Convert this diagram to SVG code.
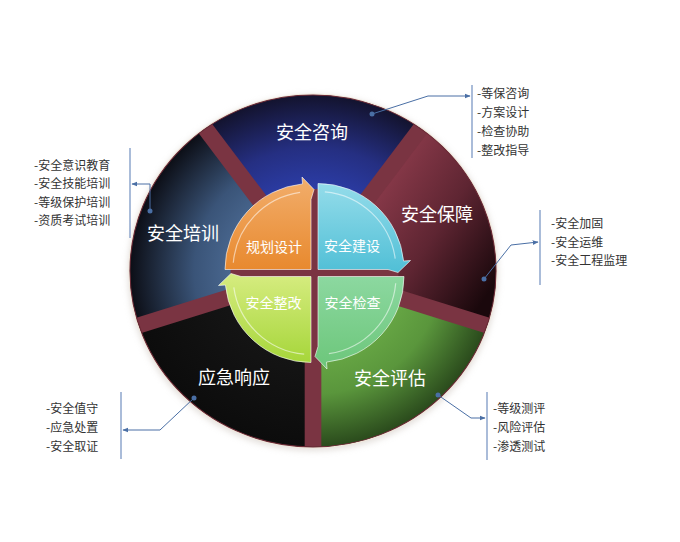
<svg xmlns="http://www.w3.org/2000/svg" width="680" height="542" viewBox="0 0 680 542">
<defs>
<style>
.lbl{font-family:"Noto Sans CJK SC","Noto Sans",sans-serif;fill:#ffffff;text-anchor:middle}
.big{font-size:18px}
.q{font-size:14px}
.list{font-family:"Noto Sans CJK SC","Noto Sans",sans-serif;font-size:12px;fill:#333333}
.conn{fill:none;stroke:#4a6fa5;stroke-width:1}
.brk{stroke:#8ea6cc;stroke-width:1.5}
.dot{fill:#4a6fa5}
.band{stroke:#7a3442;stroke-width:16}
.hl{fill:none;stroke:#ffffff;stroke-opacity:0.55;stroke-width:1.2}
.qd{stroke:#ffffff;stroke-opacity:0.6;stroke-width:1}
</style>
<marker id="ar" viewBox="0 0 10 10" refX="9" refY="5" markerWidth="6" markerHeight="6" orient="auto" markerUnits="userSpaceOnUse">
<path d="M0,1 L10,5 L0,9 Z" fill="#4a6fa5"/>
</marker>
<radialGradient id="gZX" gradientUnits="userSpaceOnUse" cx="0" cy="0" r="176">
<stop offset="0.4" stop-color="#2d40b0"/><stop offset="0.7" stop-color="#252f82"/><stop offset="1" stop-color="#13132e"/>
</radialGradient>
<linearGradient id="gBZ" gradientUnits="userSpaceOnUse" x1="50" y1="-70" x2="176" y2="10">
<stop offset="0" stop-color="#8a3a4a"/><stop offset="0.5" stop-color="#5e2532"/><stop offset="1" stop-color="#1a080c"/>
</linearGradient>
<radialGradient id="gPG" gradientUnits="userSpaceOnUse" cx="0" cy="0" r="176">
<stop offset="0.4" stop-color="#6cad48"/><stop offset="0.7" stop-color="#5a963c"/><stop offset="1" stop-color="#2a4a1c"/>
</radialGradient>
<radialGradient id="gYJ" gradientUnits="userSpaceOnUse" cx="0" cy="0" r="176">
<stop offset="0.4" stop-color="#161616"/><stop offset="1" stop-color="#0c0c0c"/>
</radialGradient>
<radialGradient id="gPX" gradientUnits="userSpaceOnUse" cx="0" cy="0" r="176">
<stop offset="0.35" stop-color="#50709a"/><stop offset="0.65" stop-color="#3a5478"/><stop offset="1" stop-color="#0c0e16"/>
</radialGradient>
<linearGradient id="qO" x1="0" y1="0" x2="0" y2="1"><stop offset="0" stop-color="#f2ae6c"/><stop offset="1" stop-color="#e8892e"/></linearGradient>
<linearGradient id="qC" x1="0" y1="0" x2="0" y2="1"><stop offset="0" stop-color="#94dcea"/><stop offset="1" stop-color="#50bfd6"/></linearGradient>
<linearGradient id="qL" x1="0" y1="0" x2="0" y2="1"><stop offset="0" stop-color="#d6ec80"/><stop offset="1" stop-color="#a6d63a"/></linearGradient>
<linearGradient id="qG" x1="0" y1="0" x2="0" y2="1"><stop offset="0" stop-color="#8cd8a0"/><stop offset="1" stop-color="#6cc67a"/></linearGradient>
<clipPath id="cc"><circle cx="0" cy="0" r="176"/></clipPath>
<filter id="sh" x="-10%" y="-10%" width="120%" height="120%"><feGaussianBlur stdDeviation="3"/></filter>
</defs>

<g id="wheel" transform="translate(313,271) scale(1.04,1)">
<circle cx="0" cy="2" r="178" fill="#c8c0b8" opacity="0.5" filter="url(#sh)"/>
<circle cx="0" cy="0" r="177.5" fill="#f0e8dc"/>
<circle cx="0" cy="0" r="176" fill="#7a3442"/>
<g id="sector-zixun"><path d="M0,0 L-103.45,-142.39 A176,176 0 0 1 103.45,-142.39 Z" fill="url(#gZX)"/></g>
<g id="sector-baozhang"><path d="M0,0 L103.45,-142.39 A176,176 0 0 1 167.39,54.39 Z" fill="url(#gBZ)"/></g>
<g id="sector-pinggu"><path d="M0,0 L167.39,54.39 A176,176 0 0 1 0,176 Z" fill="url(#gPG)"/></g>
<g id="sector-yingji"><path d="M0,0 L0,176 A176,176 0 0 1 -167.39,54.39 Z" fill="url(#gYJ)"/></g>
<g id="sector-peixun"><path d="M0,0 L-167.39,54.39 A176,176 0 0 1 -103.45,-142.39 Z" fill="url(#gPX)"/></g>
<g clip-path="url(#cc)">
<line class="band" x1="0" y1="0" x2="171.2" y2="55.6"/>
<line class="band" x1="0" y1="0" x2="0" y2="180"/>
<line class="band" x1="0" y1="0" x2="-171.2" y2="55.6"/>
<line class="band" x1="0" y1="0" x2="-105.8" y2="-145.6"/>
<line class="band" x1="0" y1="0" x2="105.8" y2="-145.6"/>
</g>
<circle cx="0" cy="0" r="176" fill="none" stroke="#6a2a36" stroke-width="1"/>
</g>

<text class="lbl big" x="312" y="138.5">安全咨询</text>
<text class="lbl big" x="437" y="220.5">安全保障</text>
<text class="lbl big" x="183" y="239.5">安全培训</text>
<text class="lbl big" x="234" y="383.5">应急响应</text>
<text class="lbl big" x="390" y="384.5">安全评估</text>

<circle cx="314.5" cy="273" r="84" fill="#7a3442"/>

<g id="q-guihua">
<path class="qd" d="M311,269.5 L225,269.5 A86,86 0 0 1 302.5,183.9 L302,177 L314,189.5 L311,199.5 Z" fill="url(#qO)"/>
<path class="hl" d="M233.3,262.7 A78,78 0 0 1 300.1,192.3"/>
<text class="lbl q" x="274" y="251.5">规划设计</text>
</g>
<g id="q-jianshe">
<path class="qd" d="M318,269.5 L318,183.5 A86,86 0 0 1 403.6,261 L410.5,260.5 L398,272.5 L388,269.5 Z" fill="url(#qC)"/>
<path class="hl" d="M324.8,191.8 A78,78 0 0 1 395.2,258.6"/>
<text class="lbl q" x="352" y="251">安全建设</text>
</g>
<g id="q-jiancha">
<path class="qd" d="M318,276.5 L404,276.5 A86,86 0 0 1 326.5,362.1 L327,369 L315,356.5 L318,346.5 Z" fill="url(#qG)"/>
<path class="hl" d="M395.7,283.3 A78,78 0 0 1 328.9,353.7"/>
<text class="lbl q" x="352.5" y="308">安全检查</text>
</g>
<g id="q-zhenggai">
<path class="qd" d="M311,276.5 L311,362.5 A86,86 0 0 1 225.4,285 L218.5,285.5 L231,273.5 L241,276.5 Z" fill="url(#qL)"/>
<path class="hl" d="M304.2,354.2 A78,78 0 0 1 233.8,287.4"/>
<text class="lbl q" x="273.5" y="308">安全整改</text>
</g>

<g id="connectors">
<polyline class="conn" points="372,114 428,96 470,96" marker-end="url(#ar)"/>
<circle class="dot" cx="372" cy="114" r="2.5"/>
<polyline class="conn" points="150,211 150,184 132,184" marker-end="url(#ar)"/>
<circle class="dot" cx="150" cy="211" r="2.5"/>
<polyline class="conn" points="484,279 511,245 538,242" marker-end="url(#ar)"/>
<circle class="dot" cx="484" cy="279" r="2.5"/>
<polyline class="conn" points="194,398 160,430 123,430" marker-end="url(#ar)"/>
<circle class="dot" cx="194" cy="398" r="2.5"/>
<polyline class="conn" points="438,395 471,418 485,418" marker-end="url(#ar)"/>
<circle class="dot" cx="438" cy="395" r="2.5"/>
</g>

<g id="list-zixun">
<line class="brk" x1="472" y1="85" x2="472" y2="158"/>
<text class="list" x="477" y="97.5">-等保咨询</text>
<text class="list" x="477" y="116.5">-方案设计</text>
<text class="list" x="477" y="135.5">-检查协助</text>
<text class="list" x="477" y="154.5">-整改指导</text>
</g>
<g id="list-peixun">
<line class="brk" x1="130" y1="148" x2="130" y2="238"/>
<text class="list" x="34" y="169.5">-安全意识教育</text>
<text class="list" x="34" y="187.5">-安全技能培训</text>
<text class="list" x="34" y="206.5">-等级保护培训</text>
<text class="list" x="34" y="224.5">-资质考试培训</text>
</g>
<g id="list-baozhang">
<line class="brk" x1="540" y1="210" x2="540" y2="285"/>
<text class="list" x="551" y="227.5">-安全加固</text>
<text class="list" x="551" y="246.5">-安全运维</text>
<text class="list" x="551" y="264.5">-安全工程监理</text>
</g>
<g id="list-yingji">
<line class="brk" x1="121" y1="392" x2="121" y2="459"/>
<text class="list" x="46" y="412.5">-安全值守</text>
<text class="list" x="46" y="431.5">-应急处置</text>
<text class="list" x="46" y="450.5">-安全取证</text>
</g>
<g id="list-pinggu">
<line class="brk" x1="487" y1="392" x2="487" y2="460"/>
<text class="list" x="493" y="412.5">-等级测评</text>
<text class="list" x="493" y="431.5">-风险评估</text>
<text class="list" x="493" y="450.5">-渗透测试</text>
</g>
</svg>
